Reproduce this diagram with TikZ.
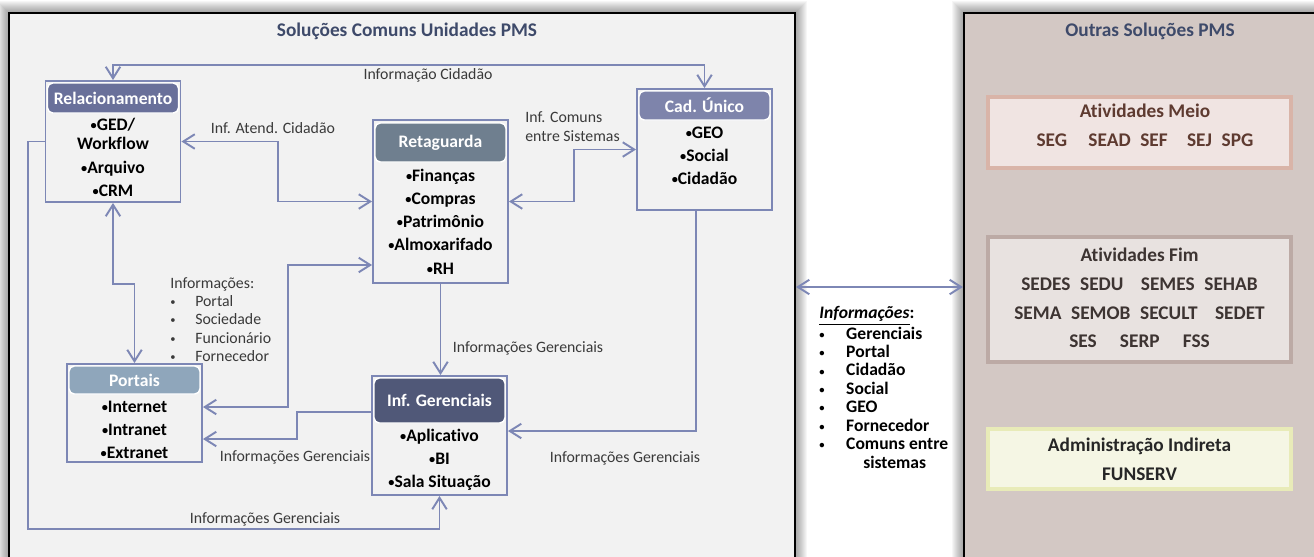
\documentclass[tikz,border=0pt]{standalone}
\usepackage{fontspec}
\setmainfont{Carlito}[Ligatures=NoCommon]
\usetikzlibrary{arrows.meta,positioning}
\definecolor{panelgray}{RGB}{242,242,242}
\definecolor{panelbrown}{RGB}{211,200,196}
\definecolor{linkblue}{RGB}{125,135,181}
\definecolor{titleblue}{RGB}{62,74,106}
\definecolor{relhead}{RGB}{105,112,154}
\definecolor{rethead}{RGB}{111,127,143}
\definecolor{cadhead}{RGB}{126,132,171}
\definecolor{porhead}{RGB}{143,166,187}
\definecolor{infhead}{RGB}{80,88,120}
\definecolor{meioedge}{RGB}{217,180,168}
\definecolor{meiofill}{RGB}{240,228,226}
\definecolor{meiotext}{RGB}{94,58,48}
\definecolor{fimedge}{RGB}{188,170,165}
\definecolor{fimfill}{RGB}{232,226,224}
\definecolor{fimtext}{RGB}{61,52,50}
\definecolor{admedge}{RGB}{232,235,184}
\definecolor{admfill}{RGB}{245,246,228}
\definecolor{labelgray}{RGB}{58,58,58}
% small bullets as in the original
\newcommand{\dotb}{\raisebox{0.6pt}{\fontsize{7}{7}\selectfont\textbullet}}
\newcommand{\lstb}[1]{\makebox[#1][l]{\raisebox{0.5pt}{\fontsize{6}{6}\selectfont\textbullet}}}

\begin{document}
\begin{tikzpicture}[x=0.02cm,y=-0.02cm,
      >={Straight Barb[length=2.3mm,width=2.9mm]},
      panel/.style={draw=black,line width=1.2pt,minimum height=11.14cm,inner sep=0pt},
      ttl/.style={font=\bfseries\fontsize{11}{13}\selectfont,text=titleblue,inner sep=0pt},
      sysbox/.style={draw=linkblue,line width=1.1pt,fill=panelgray,
                     minimum width=2.7cm,inner sep=0pt},
      head/.style={fill=#1,draw=white,line width=0.8pt,rounded corners=3pt,
                   minimum width=2.62cm,inner sep=0pt,text=white,
                   font=\bfseries\fontsize{10}{12}\selectfont},
      items/.style={align=center,inner sep=0pt,font=\bfseries\fontsize{10}{13.2}\selectfont},
      lnk/.style={draw=linkblue,line width=1.1pt},
      lab/.style={font=\fontsize{9}{10.8}\selectfont,text=labelgray,inner sep=0pt},
      grp/.style={line width=2.3pt,minimum width=6.06cm,inner sep=0pt},
      grptext/.style={align=center,inner sep=0pt,font=\bfseries\fontsize{11}{16.3}\selectfont}]
  \useasboundingbox (0,0) rectangle (1314,556);

  % soft shadows round the two panels
  \foreach \w in {2,4,...,24} {
    \draw[black,opacity=0.035,line width=\w*0.02cm] (9,13) rectangle (795,570);
    \draw[black,opacity=0.035,line width=\w*0.02cm] (964,13) rectangle (1330,570);
  }

  % panels
  \node[panel,fill=panelgray,minimum width=15.72cm] (solL) at (402,291.5) {};
  \node[panel,fill=panelbrown,minimum width=7.32cm] (solR) at (1147,291.5) {};
  \node[ttl] (solL-t) at (407,31) {Soluções Comuns Unidades PMS};
  \node[ttl] (solR-t) at (1150,31) {Outras Soluções PMS};

  % system boxes
  \node[sysbox,minimum height=2.42cm] (rel) at (113,141.5) {};
  \node[head=relhead,minimum height=0.6cm] (rel-h) at (113,98) {Relacionamento};
  \node[items] (rel-b) at (113,157.5) {\dotb GED/\\[-2.4pt]Workflow\\\dotb Arquivo\\\dotb CRM};

  \node[sysbox,minimum height=3.26cm] (ret) at (440.5,201.5) {};
  \node[head=rethead,minimum height=0.78cm] (ret-h) at (440.5,142.5) {Retaguarda};
  \node[items] (ret-b) at (440.5,221.5)
    {\dotb Finanças\\\dotb Compras\\\dotb Patrimônio\\\dotb Almoxarifado\\\dotb RH};

  \node[sysbox,minimum height=2.42cm] (cad) at (704.5,149.5) {};
  \node[head=cadhead,minimum height=0.58cm] (cad-h) at (704.5,105.5) {Cad. Único};
  \node[items] (cad-b) at (704.5,156) {\dotb GEO\\\dotb Social\\\dotb Cidadão};

  \node[sysbox,minimum height=1.96cm] (por) at (134.5,413) {};
  \node[head=porhead,minimum height=0.56cm] (por-h) at (134.5,380) {Portais};
  \node[items] (por-b) at (134.5,430) {\dotb Internet\\\dotb Intranet\\\dotb Extranet};

  \node[sysbox,minimum height=2.38cm] (inf) at (439.5,435.5) {};
  \node[head=infhead,minimum height=0.9cm] (inf-h) at (439.5,400.5) {Inf. Gerenciais};
  \node[items] (inf-b) at (439.5,460) {\dotb Aplicativo\\\dotb BI\\\dotb Sala Situação};

  % connectors
  \draw[lnk,<->] (rel.north) -- ++(0,-15) -| (cad.north);
  \node[lab] (l-cid) at (428,75) {Informação Cidadão};

  \draw[lnk,<->] (rel.east) -- ++(97,0) |- (ret.west);
  \node[lab] (l-atend) at (273,128) {Inf. Atend. Cidadão};

  \draw[lnk,<->] (ret.east) -- ++(65,0) |- (cad.west);
  \node[lab,align=left,anchor=west] (l-comuns) at (525,126.5) {Inf. Comuns\\entre Sistemas};

  \draw[lnk,<->] (rel.south) -- ++(0,81) -| (por.north);
  \draw[lnk,<->] ([yshift=0.12cm]por.east) -- ++(85,0) |- ([yshift=-1.27cm]ret.west);
  \node[lab,align=left,anchor=north west,font=\fontsize{9}{10.4}\selectfont] (l-info) at (170,277)
    {Informações:\\
     \lstb{14.2pt}Portal\\
     \lstb{14.2pt}Sociedade\\
     \lstb{14.2pt}Funcionário\\
     \lstb{14.2pt}Fornecedor};

  \draw[lnk,->] ([yshift=0.47cm]inf.west) -- ++(-74,0) |- ([yshift=-0.52cm]por.east);
  \node[lab] (l-ger1) at (295,457) {Informações Gerenciais};

  \draw[lnk,->] (ret.south) -- (ret.south |- inf.north);
  \node[lab] (l-ger2) at (528,348) {Informações Gerenciais};

  \draw[lnk,->] ([xshift=-0.17cm]cad.south) |- ([yshift=0.09cm]inf.east);
  \node[lab] (l-ger3) at (625,458) {Informações Gerenciais};

  \draw[lnk,->] (rel.west) -- ++(-17,0) -- ++(0,387.5) -| (inf.south);
  \node[lab] (l-ger4) at (265,519) {Informações Gerenciais};

  % between the panels
  \draw[lnk,<->] ([yshift=0.09cm]solL.east) -- ([yshift=0.09cm]solR.west);
  \node[align=left,anchor=north west,inner sep=0pt,font=\bfseries\fontsize{10}{10.5}\selectfont] (l-mid) at (819,306)
    {\underline{\textit{Informações}}:\\
     \lstb{15.3pt}Gerenciais\\
     \lstb{15.3pt}Portal\\
     \lstb{15.3pt}Cidadão\\
     \lstb{15.3pt}Social\\
     \lstb{15.3pt}GEO\\
     \lstb{15.3pt}Fornecedor\\
     \lstb{15.3pt}Comuns entre\\
     \hspace*{25pt}sistemas};

  % other solutions
  \node[grp,draw=meioedge,fill=meiofill,minimum height=1.42cm] (meio) at (1139.5,132.5) {};
  \node[grptext,text=meiotext] (meio-t) at (1145,125.5)
    {Atividades Meio\\SEG\hspace{1.1em}SEAD\hspace{0.5em}SEF\hspace{1em}SEJ\hspace{0.5em}SPG};
  \node[grp,draw=fimedge,fill=fimfill,minimum height=2.5cm] (fim) at (1139.5,299.5) {};
  \node[grptext,text=fimtext] (fim-t) at (1139.5,298)
    {Atividades Fim\\
     SEDES\hspace{0.5em}SEDU\hspace{0.9em}SEMES\hspace{0.5em}SEHAB\\
     SEMA\hspace{0.5em}SEMOB\hspace{0.5em}SECULT\hspace{0.9em}SEDET\\
     SES\hspace{1.2em}SERP\hspace{1.2em}FSS};
  \node[grp,draw=admedge,fill=admfill,minimum height=1.2cm] (adm) at (1139.5,459) {};
  \node[grptext,text=black!85] (adm-t) at (1139.5,459) {Administração Indireta\\FUNSERV};
\end{tikzpicture}
\end{document}
